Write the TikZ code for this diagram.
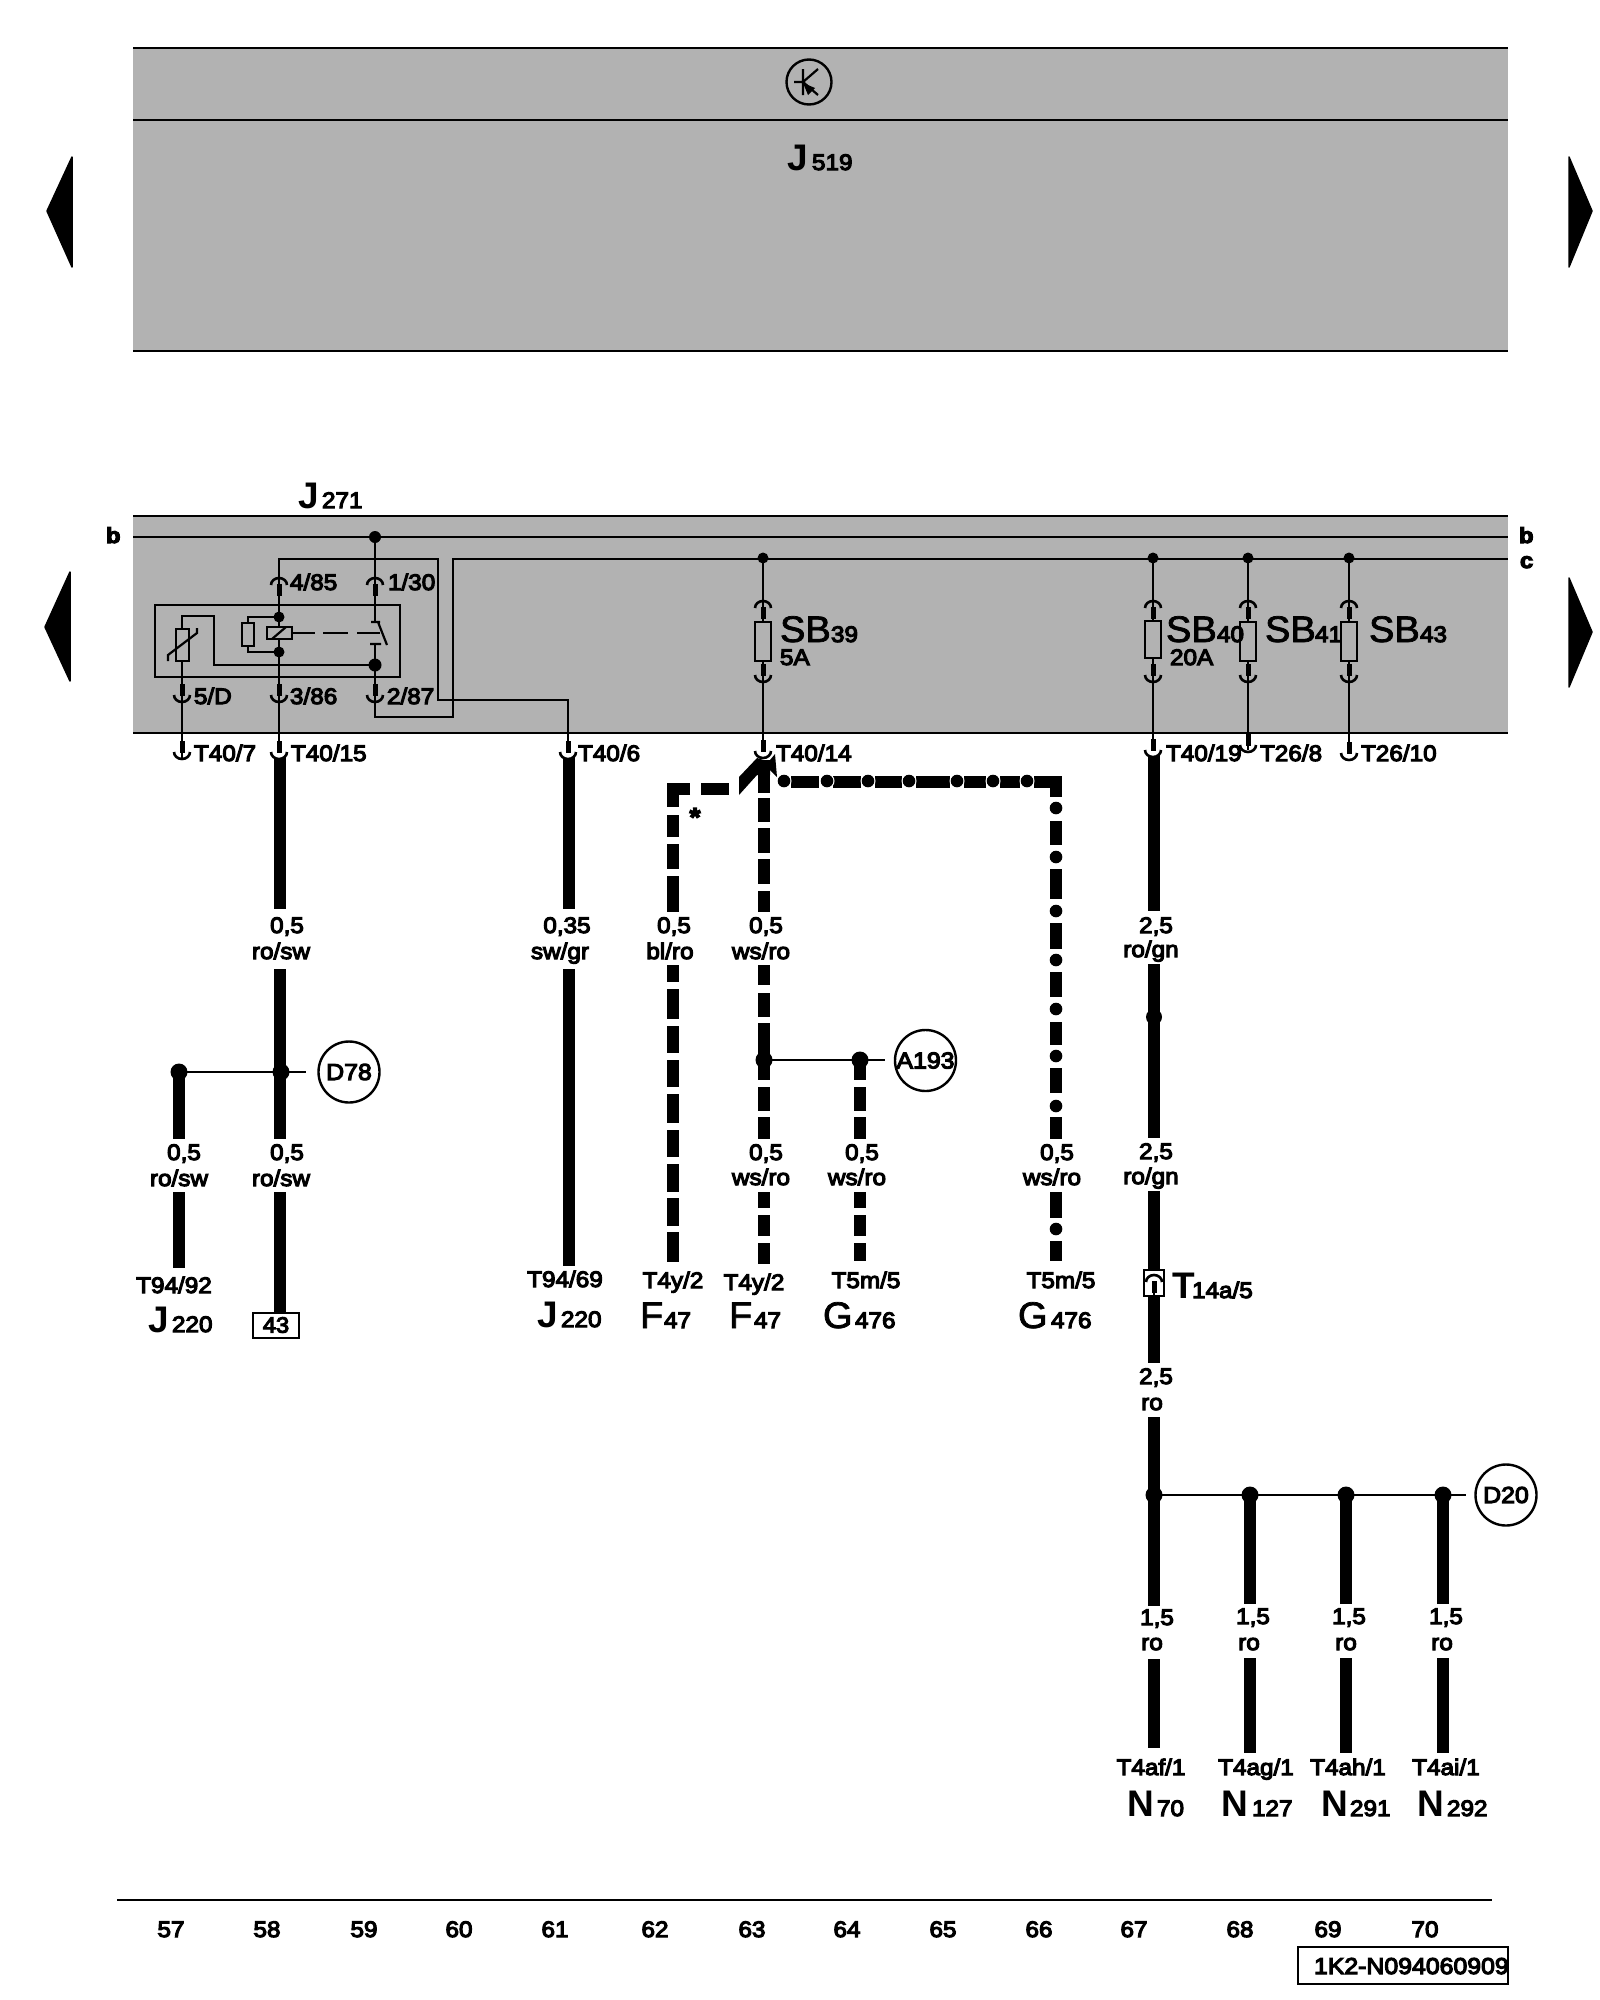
\documentclass[tikz,border=0pt]{standalone}
\usepackage{fontspec}
\usetikzlibrary{shapes.geometric}
\setmainfont[FakeStretch=1.08,FakeBold=5]{Liberation Sans}
\newfontfamily\bigreg[FakeStretch=1.03,FakeBold=2]{Liberation Sans}
\newfontfamily\bigbold{Liberation Sans Bold}
\definecolor{panel}{HTML}{B2B2B2}
\tikzset{
  thin line/.style={line width=2.2pt,black},
  border line/.style={line width=2.6pt,black},
  heavy/.style={line width=11.5pt,black,line cap=butt},
  lbl/.style={inner sep=0pt,outer sep=0pt,font=\fontsize{22.5}{24}\selectfont},
  labc/.style={lbl,anchor=base},
  labw/.style={lbl,anchor=base west},
  bulb/.style={circle,draw=black,line width=2.4pt,fill=white,inner sep=0pt,minimum size=61pt,font=\fontsize{23}{24}\selectfont},
  sidearrow/.style={fill=black,draw=black,line width=1.5pt,line join=round},
}
\newcounter{lb}
\newcommand\Lc[3]{\stepcounter{lb}\node[labc] (c\arabic{lb}) at (#1,#2) {#3};}
\newcommand\Lw[3]{\stepcounter{lb}\node[labw] (w\arabic{lb}) at (#1,#2) {#3};}
% Big letter + subscript: x, sub x, baseline, font, size, letter, sub
\newcommand\Tag[7]{\stepcounter{lb}\node[labw,font={#4\fontsize{#5}{#5}\selectfont}] (b\arabic{lb}) at (#1,#3) {#6};\stepcounter{lb}\node[labw] (s\arabic{lb}) at (#2,#3) {#7};}
% connector, cup (bottom at y)
\newcommand\ConD[2]{\draw[line width=2.6pt] (#1-8,#2-7) arc[start angle=180,end angle=0,x radius=8,y radius=7];
  \draw[line width=5pt] (#1,#2-18) -- (#1,#2-6);}
% same, on top of a heavy wire: white notch first
\newcommand\ConW[2]{\fill[white] (#1,#2-6) circle (6pt);\ConD{#1}{#2}}
% connector, cap (top at y)
\newcommand\ConU[2]{\draw[line width=2.6pt] (#1-8,#2+7) arc[start angle=180,end angle=360,x radius=8,y radius=7];
  \draw[line width=5pt] (#1,#2+18) -- (#1,#2+6);}
\newcommand\Dot[3]{\fill (#1,#2) circle (#3pt);}
\newcommand\HDot[2]{\fill[white] (#1,#2) circle (7.5pt);\fill (#1,#2) circle (6.3pt);}
\newcommand\Fuse[3]{\filldraw[thin line,fill=panel] (#1-8,#2) rectangle (#1+8,#3);}
\newcommand\VSeg[2]{\foreach \a/\b in {#2} {\draw[heavy] (#1,\a) -- (#1,\b);}}
\newcommand\HSeg[2]{\foreach \a/\b in {#2} {\draw[heavy] (\a,#1) -- (\b,#1);}}
\begin{document}
\begin{tikzpicture}[x=1pt,y=-1pt]
\useasboundingbox (0,0) rectangle (1600,2000);
\fill[white] (0,0) rectangle (1600,2000);

% ---- top panel
\fill[panel] (133,48) rectangle (1508,351);
\foreach \yy in {48,120,351} {\draw[border line] (133,\yy) -- (1508,\yy);}
\node[circle,draw=black,line width=2.4pt,inner sep=0pt,minimum size=45pt] (clock) at (809,82) {};
\draw[thin line] (803,69) -- (803,95) (794,82) -- (803,82) (803,82) -- (818,69) (803,82) -- (818,95);
\fill (803,83) -- (815,88) -- (808,95) -- cycle;
\Tag{787}{812}{170}{\bigbold}{37}{J}{519}

% ---- side arrows
\filldraw[sidearrow] (72,157) -- (72,267) -- (47,211) -- cycle;
\filldraw[sidearrow] (1569,157) -- (1569,267) -- (1592,211) -- cycle;
\filldraw[sidearrow] (70,572) -- (70,681) -- (45,627) -- cycle;
\filldraw[sidearrow] (1569,578) -- (1569,687) -- (1592,632) -- cycle;

% ---- fuse/relay panel
\fill[panel] (133,516) rectangle (1508,733);
\foreach \yy in {516,733} {\draw[border line] (133,\yy) -- (1508,\yy);}
\draw[thin line] (133,537) -- (1508,537);
\draw[thin line] (1508,559) -- (453,559) -- (453,717) -- (375,717) -- (375,644);
\draw[thin line] (375,537) -- (375,622);
\draw[thin line] (279,759) -- (279,559) -- (438,559) -- (438,700) -- (568,700) -- (568,755);
\draw[thin line] (182,759) -- (182,616) -- (214,616) -- (214,665) -- (375,665);
\draw[border line] (155,605) rectangle (400,677);
\Dot{375}{537}{6}
% thermistor
\filldraw[thin line,fill=panel] (176,629) rectangle (189,661);
\draw[thin line] (168,661) -- (168,655) -- (197,633) -- (197,628);
% resistor and coil
\draw[thin line] (279,617) -- (248,617) -- (248,652) -- (279,652);
\filldraw[thin line,fill=panel] (242,623) rectangle (254,646);
\filldraw[thin line,fill=panel] (267,627) rectangle (292,639);
\draw[thin line] (272,639) -- (286,627);
\Dot{279}{617}{5.5}\Dot{279}{652}{5.5}
\draw[thin line] (292,633) -- (315,633) (323,633) -- (348,633) (357,633) -- (380,633);
\draw[thin line] (371,622) -- (380,622) (378,622) -- (387,645) (370,644) -- (381,644);
\Dot{375}{665}{6.5}
% connectors in the relay
\ConU{279}{578}\ConU{375}{578}
\ConD{182}{702}\ConD{279}{702}\ConD{375}{702}
\Lw{290}{590}{4/85}\Lw{388}{590}{1/30}
\Lw{194}{704}{5/D}\Lw{290}{704}{3/86}\Lw{387}{704}{2/87}
\node[labw,font=\bfseries\fontsize{22}{24}\selectfont] (bL) at (106,543) {b};
\node[labw,font=\bfseries\fontsize{22}{24}\selectfont] (bR) at (1519,543) {b};
\node[labw,font=\bfseries\fontsize{22}{24}\selectfont] (cR) at (1520,568) {c};
\Tag{298}{322}{508}{\bigbold}{37}{J}{271}

% ---- fuses
\foreach \xx in {763,1153,1248,1349} {\draw[thin line] (\xx,559) -- (\xx,750); \fill (\xx,558) circle (5.5pt);}
\Fuse{763}{622}{661}\Fuse{1153}{621}{658}\Fuse{1248}{622}{661}\Fuse{1349}{622}{661}
\foreach \xx in {763,1153,1248,1349} {\ConU{\xx}{601}\ConD{\xx}{682}}
\Tag{780}{831}{642}{\bigreg}{37}{SB}{39}
\Tag{1166}{1217}{642}{\bigreg}{37}{SB}{40}
\Tag{1265}{1315}{642}{\bigreg}{37}{SB}{41}
\Tag{1369}{1420}{642}{\bigreg}{37}{SB}{43}
\Lw{780}{665}{5A}\Lw{1170}{665}{20A}

% ---- terminals row
\VSeg{280}{755/909,969/1139,1192/1312}
\VSeg{569}{755/909,969/1266}
\VSeg{1154}{755/911,964/1138,1191/1363,1417/1606,1659/1748}
\ConD{182}{759}\ConW{279}{759}\ConW{568}{759}\ConW{763}{758}\ConW{1153}{757}\ConD{1248}{752}\ConD{1349}{760}
\Lw{194}{761}{T40/7}\Lw{291}{761}{T40/15}\Lw{578}{761}{T40/6}\Lw{776}{761}{T40/14}
\Lw{1166}{761}{T40/19}\Lw{1260}{761}{T26/8}\Lw{1361}{761}{T26/10}

% ---- wire 58 / 57
\coordinate (jA) at (179,1072); \coordinate (jB) at (281,1072); \coordinate (jBe) at (306,1072);
\VSeg{179}{1072/1139,1192/1268}
\draw[thin line] (jA) -- (jB) -- (jBe);
\Dot{179}{1072}{8.5}\Dot{281}{1072}{8.5}
\node[bulb] (D78) at (349,1072) {D78};
\Lc{184}{1160}{0,5}\Lc{179}{1186}{ro/sw}\Lc{287}{1160}{0,5}\Lc{281}{1186}{ro/sw}
\Lc{287}{933}{0,5}\Lc{281}{959}{ro/sw}
\Lc{174}{1293}{T94/92}
\Tag{148}{172}{1332}{\bigbold}{37}{J}{220}
\node[draw=black,line width=2pt,minimum width=46pt,minimum height=25pt,inner sep=0pt,font=\fontsize{22}{24}\selectfont] (fortythree) at (276,1325) {43};

% ---- wire 61
\Lc{567}{933}{0,35}\Lc{560}{959}{sw/gr}
\Lc{565}{1287}{T94/69}
\Tag{537}{561}{1327}{\bigbold}{37}{J}{220}

% ---- F47 (dashed)
\draw[heavy,line cap=butt] (690,789) -- (673,789) -- (673,807);
\HSeg{789}{701/729}
\VSeg{673}{815/837,844/869,876/912,965/982,989/1019,1026/1053,1060/1087,1094/1123,1130/1157,1164/1192,1198/1226,1232/1262}
\fill (739,795) -- (739,777) -- (757,758) -- (770,762) -- (770,775) -- (757,775) -- cycle;
\fill (770,760) -- (775,754) -- (777,777) -- (770,770) -- cycle;
\VSeg{764}{760/793,798/822,828/853,859/884,891/912,965/985,993/1017,1023/1080,1087/1111,1117/1139,1192/1208,1215/1236,1243/1264}
\VSeg{860}{1056/1080,1087/1111,1117/1139,1192/1208,1215/1236,1243/1261}
\coordinate (jC) at (764,1060); \coordinate (jD) at (860,1060); \coordinate (jDe) at (885,1060);
\draw[thin line] (jC) -- (jD) -- (jDe);
\Dot{764}{1060}{8.5}\Dot{860}{1060}{8.5}
\node[bulb] (A193) at (925.5,1060.5) {A193};
\node[labc,font=\bfseries\fontsize{26}{26}\selectfont] (star) at (695,826) {*};
\Lc{674}{933}{0,5}\Lc{670}{959}{bl/ro}
\Lc{766}{933}{0,5}\Lc{761}{959}{ws/ro}
\Lc{766}{1160}{0,5}\Lc{761}{1185}{ws/ro}
\Lc{862}{1160}{0,5}\Lc{857}{1185}{ws/ro}
\Lc{1057}{1160}{0,5}\Lc{1052}{1185}{ws/ro}
\Lc{673}{1288}{T4y/2}\Lc{754}{1290}{T4y/2}\Lc{866}{1288}{T5m/5}\Lc{1061}{1288}{T5m/5}
\Tag{640}{664}{1328}{\bigreg}{37}{F}{47}
\Tag{729}{754}{1328}{\bigreg}{37}{F}{47}
\Tag{823}{855}{1328}{\bigreg}{37}{G}{476}
\Tag{1018}{1051}{1328}{\bigreg}{37}{G}{476}

% ---- G476 (dash-dot)
\HSeg{782}{791/819,833/861,875/902,916/950,964/986,1000/1020,1034/1050}
\draw[heavy] (1034,782) -- (1056,782) -- (1056,797);
\foreach \xx in {784,827,868,909,957,993,1027} {\HDot{\xx}{781}}
\VSeg{1056}{821/845,869/899,923/949,972/997,1022/1045,1068/1093,1117/1139,1192/1218,1241/1261}
\foreach \yy in {808,857,911,960,1009,1056,1106,1229} {\HDot{1056}{\yy}}

% ---- wire 67
\Dot{1154}{1017}{8}
\Lc{1156}{933}{2,5}\Lc{1151}{957}{ro/gn}
\Lc{1156}{1159}{2,5}\Lc{1151}{1184}{ro/gn}
\Lc{1156}{1384}{2,5}\Lc{1152}{1410}{ro}
\node[draw=black,fill=white,line width=2.8pt,minimum width=20pt,minimum height=26pt,inner sep=0pt] (boxT) at (1154,1283) {};
\draw[thin line] (1154,1283) -- (1154,1296);
\ConU{1154}{1275}
\Tag{1172}{1192}{1298}{\bigbold}{37}{T}{14a/5}

% ---- D20 group
\VSeg{1250}{1495/1604,1658/1753}
\VSeg{1346}{1495/1604,1658/1753}
\VSeg{1443}{1495/1604,1658/1753}
\node[bulb] (D20) at (1506,1495) {D20};
\coordinate (jE) at (1154,1495); \coordinate (jEe) at (1466,1495);
\draw[thin line] (jE) -- (jEe);
\foreach \xx in {1154,1250,1346,1443} {\Dot{\xx}{1495}{8.5}}
\Lc{1157}{1625}{1,5}\Lc{1152}{1650}{ro}
\Lc{1253}{1624}{1,5}\Lc{1249}{1650}{ro}
\Lc{1349}{1624}{1,5}\Lc{1346}{1650}{ro}
\Lc{1446}{1624}{1,5}\Lc{1442}{1650}{ro}
\Lc{1151}{1775}{T4af/1}\Lc{1256}{1775}{T4ag/1}\Lc{1348}{1775}{T4ah/1}\Lc{1446}{1775}{T4ai/1}
\Tag{1127}{1157}{1816}{\bigbold}{37}{N}{70}
\Tag{1221}{1252}{1816}{\bigbold}{37}{N}{127}
\Tag{1321}{1350}{1816}{\bigbold}{37}{N}{291}
\Tag{1417}{1447}{1816}{\bigbold}{37}{N}{292}

% ---- footer
\draw[border line] (117,1900) -- (1492,1900);
\foreach \xx/\nn in {171/57,267/58,364/59,459/60,555/61,655/62,752/63,847/64,943/65,1039/66,1134/67,1240/68,1328/69,1425/70}
  {\node[labc] (n\nn) at (\xx,1937) {\nn};}
\draw[border line] (1298,1947) rectangle (1508,1984);
\node[labw,font=\fontsize{23}{24}\selectfont] (code) at (1314,1974) {1K2-N094060909};
\end{tikzpicture}
\end{document}
